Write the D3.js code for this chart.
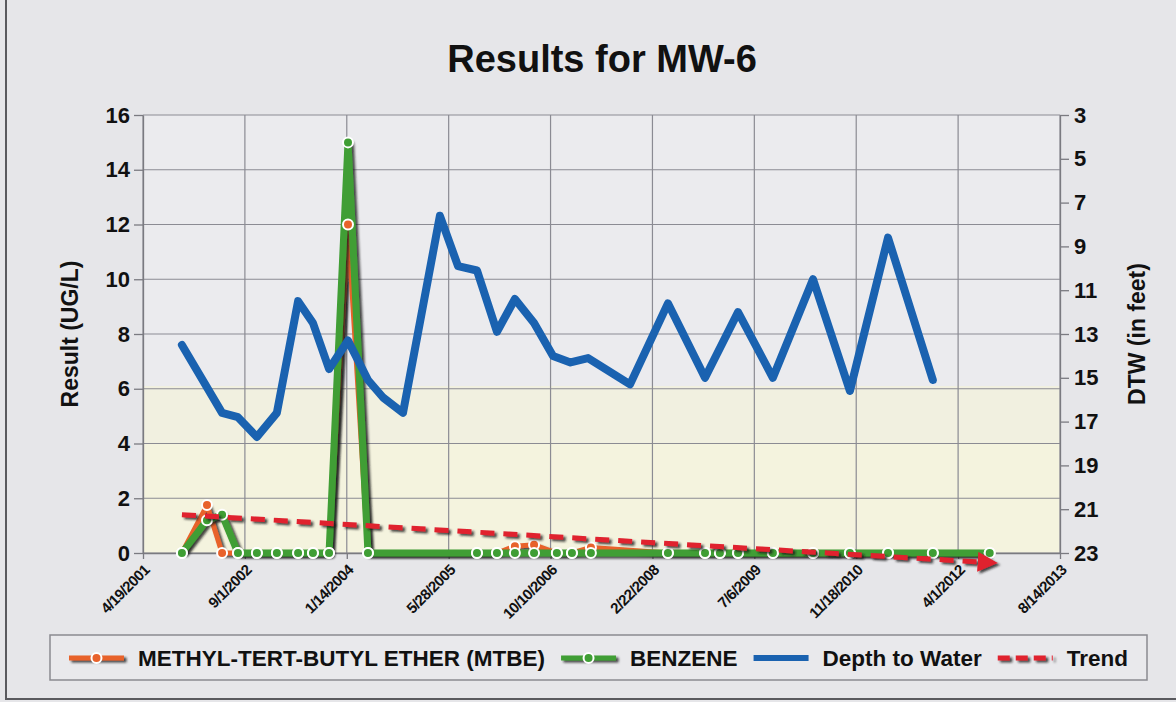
<!DOCTYPE html>
<html><head><meta charset="utf-8">
<script src="https://cdn.jsdelivr.net/npm/d3@7"></script>
<style>
html,body{margin:0;padding:0;background:#e6e6e9;}
svg{display:block;font-family:"Liberation Sans",Arial,sans-serif;}
</style></head><body>
<svg id="chart" width="1176" height="702"></svg>
<script>
// ---------- DATA ----------
const chartTitle = "Results for MW-6";
const leftAxisTitle = "Result (UG/L)";
const rightAxisTitle = "DTW (in feet)";
const xTickLabels = ["4/19/2001","9/1/2002","1/14/2004","5/28/2005","10/10/2006","2/22/2008","7/6/2009","11/18/2010","4/1/2012","8/14/2013"];
const leftTicks = [0,2,4,6,8,10,12,14,16];
const rightTicks = [3,5,7,9,11,13,15,17,19,21,23];

const sampleDates = ["2001-10-27","2002-02-27","2002-05-12","2002-07-29","2002-10-30","2003-02-05","2003-05-20","2003-08-01","2003-10-19","2004-01-20","2004-04-27","2005-10-14","2006-01-20","2006-04-18","2006-07-21","2006-11-10","2007-01-23","2007-04-26","2008-05-08","2008-11-06","2009-01-18","2009-04-17","2009-10-05","2010-04-20","2010-10-18","2011-04-23","2011-11-29","2012-09-03"];
const mtbeValues    = [0,1.75,0,0,0,0,0,0,0,12,0,0,0,0.25,0.3,0,0,0.2,0,0,0,0,0,0,0,0,0,0];
const benzeneValues = [0,1.2,1.4,0,0,0,0,0,0,15,0,0,0,0,0,0,0,0,0,0,0,0,0,0,0,0,0,0];

const dtwDates = ["2001-10-27","2002-05-12","2002-07-29","2002-10-30","2003-02-05","2003-05-20","2003-08-01","2003-10-19","2004-01-20","2004-04-27","2004-07-10","2004-10-16","2005-04-15","2005-07-13","2005-10-14","2006-01-20","2006-04-18","2006-07-21","2006-10-22","2007-01-16","2007-04-12","2007-11-04","2008-05-08","2008-11-06","2009-04-17","2009-10-05","2010-04-20","2010-10-18","2011-04-23","2011-11-29"];
const dtwValues = [13.5,16.6,16.8,17.7,16.6,11.5,12.5,14.6,13.3,15.1,15.9,16.6,7.6,9.9,10.1,12.9,11.4,12.5,14.0,14.3,14.1,15.3,11.6,15.0,12.0,15.0,10.5,15.6,8.6,15.1];

const trendDates = ["2001-10-27","2012-09-03"];
const trendValues = [1.4,-0.35];

const legendLabels = ["METHYL-TERT-BUTYL ETHER (MTBE)","BENZENE","Depth to Water","Trend"];
const seriesColors = {mtbe:"#e8622c", benzene:"#3f9e34", dtw:"#1a62b0", trend:"#e0202f"};

// ---------- CHART ----------
const svg = d3.select("#chart");
const parseISO = d3.timeParse("%Y-%m-%d");
const parseTick = d3.timeParse("%m/%d/%Y");
const tickDates = xTickLabels.map(parseTick);

const L = 143, R = 1060, T = 115, B = 553;
const x = d3.scaleTime().domain([tickDates[0], tickDates[tickDates.length-1]]).range([L, R]);
const yL = d3.scaleLinear().domain([0,16]).range([B, T]);
const yR = d3.scaleLinear().domain([3,23]).range([T, B]);

const defs = svg.append("defs");
const f = defs.append("filter").attr("id","sh").attr("filterUnits","userSpaceOnUse")
  .attr("x",0).attr("y",0).attr("width",1176).attr("height",702);
f.append("feDropShadow").attr("dx",2.5).attr("dy",2).attr("stdDeviation",0.8)
  .attr("flood-color","#1e1e1e").attr("flood-opacity",0.8);
defs.append("marker").attr("id","arrow").attr("viewBox","0 0 10 10").attr("refX",6).attr("refY",5)
  .attr("markerWidth",4).attr("markerHeight",4).attr("orient","auto")
  .append("path").attr("d","M0,0 L10,5 L0,10 z").attr("fill",seriesColors.trend);

// frame
svg.append("path").attr("d","M6,-5 L6,699 L1180,699").attr("fill","none").attr("stroke","#5a5a5e").attr("stroke-width",2);

// plot background
svg.append("rect").attr("x",L).attr("y",T).attr("width",R-L).attr("height",B-T).attr("fill","#ebebee");
svg.append("rect").attr("x",L).attr("y",yL(6.1)).attr("width",R-L).attr("height",B-yL(6.1)).attr("fill","#f1f0e0");
svg.append("rect").attr("x",L).attr("y",yL(4.0)).attr("width",R-L).attr("height",B-yL(4.0)).attr("fill","#f4f3de");

// grid
const grid = svg.append("g").attr("stroke","#8b8b93").attr("stroke-width",1.2);
grid.selectAll("line.h").data(leftTicks).join("line")
  .attr("x1",L).attr("x2",R).attr("y1",d=>yL(d)).attr("y2",d=>yL(d));
grid.selectAll("line.v").data(tickDates).join("line")
  .attr("x1",d=>x(d)).attr("x2",d=>x(d)).attr("y1",T).attr("y2",B);

// axes
function styleAxis(g, fs){
  g.select(".domain").attr("stroke","#7a7a80").attr("stroke-width",1.3);
  g.selectAll(".tick line").attr("stroke","#7a7a80").attr("stroke-width",1.3);
  g.selectAll("text").attr("font-family","Liberation Sans, Arial, sans-serif")
    .attr("font-weight","bold").attr("font-size",fs).attr("fill","#111");
}
const gl = svg.append("g").attr("transform",`translate(${L},0)`)
  .call(d3.axisLeft(yL).tickValues(leftTicks).tickSize(9).tickPadding(4).tickSizeOuter(0));
styleAxis(gl, 22);
const gr = svg.append("g").attr("transform",`translate(${R},0)`)
  .call(d3.axisRight(yR).tickValues(rightTicks).tickSize(9).tickPadding(5).tickSizeOuter(0));
styleAxis(gr, 22);
const gb = svg.append("g").attr("transform",`translate(0,${B})`)
  .call(d3.axisBottom(x).tickValues(tickDates).tickSize(6).tickSizeOuter(0).tickFormat((d,i)=>xTickLabels[i]));
styleAxis(gb, 15);
gb.selectAll("text").attr("x",0).attr("y",0).attr("dy",0).attr("text-anchor","end")
  .attr("letter-spacing","-0.6").attr("transform","translate(7,18) rotate(-45)");

// titles
svg.append("text").attr("x",602).attr("y",72).attr("text-anchor","middle")
  .attr("font-weight","bold").attr("font-size",38).attr("fill","#111").text(chartTitle);
svg.append("text").attr("transform","translate(78,334) rotate(-90)").attr("text-anchor","middle")
  .attr("font-weight","bold").attr("font-size",23).attr("fill","#111").text(leftAxisTitle);
svg.append("text").attr("transform","translate(1145,334) rotate(-90)").attr("text-anchor","middle")
  .attr("font-weight","bold").attr("font-size",23).attr("fill","#111").text(rightAxisTitle);

// series
const mtbe = sampleDates.map((d,i)=>({d:parseISO(d), v:mtbeValues[i]}));
const benz = sampleDates.map((d,i)=>({d:parseISO(d), v:benzeneValues[i]}));
const dtw = dtwDates.map((d,i)=>({d:parseISO(d), v:dtwValues[i]}));
const trend = trendDates.map((d,i)=>({d:parseISO(d), v:trendValues[i]}));
const lineL = d3.line().x(p=>x(p.d)).y(p=>yL(p.v));
const lineR = d3.line().x(p=>x(p.d)).y(p=>yR(p.v));

svg.append("path").datum(mtbe).attr("d",lineL).attr("fill","none")
  .attr("stroke",seriesColors.mtbe).attr("stroke-width",5).attr("stroke-linejoin","round").attr("filter","url(#sh)");
svg.append("path").datum(benz).attr("d",lineL).attr("fill","none")
  .attr("stroke",seriesColors.benzene).attr("stroke-width",7).attr("stroke-linejoin","round").attr("filter","url(#sh)");
svg.append("g").selectAll("circle").data(mtbe).join("circle")
  .attr("cx",p=>x(p.d)).attr("cy",p=>yL(p.v)).attr("r",5)
  .attr("fill",seriesColors.mtbe).attr("stroke","#fff").attr("stroke-width",2);
svg.append("g").selectAll("circle").data(benz).join("circle")
  .attr("cx",p=>x(p.d)).attr("cy",p=>yL(p.v)).attr("r",5)
  .attr("fill",seriesColors.benzene).attr("stroke","#fff").attr("stroke-width",2);
svg.append("path").datum(dtw).attr("d",lineR).attr("fill","none")
  .attr("stroke",seriesColors.dtw).attr("stroke-width",8).attr("stroke-linejoin","round").attr("stroke-linecap","round");
svg.append("path").datum(trend).attr("d",lineL).attr("fill","none")
  .attr("stroke",seriesColors.trend).attr("stroke-width",5).attr("stroke-dasharray","14,9")
  .attr("filter","url(#sh)").attr("marker-end","url(#arrow)");

// legend
const lg = svg.append("g");
lg.append("rect").attr("x",50).attr("y",635).attr("width",1097).attr("height",45)
  .attr("fill","#e9e9ec").attr("stroke","#8a8a90").attr("stroke-width",1.5);
const iconW = 55, gapIcon = 14, gapItem = 16, cy = 658, lfs = 22.5;
const styles = [
  {c:seriesColors.mtbe, w:5, dash:null, dot:true},
  {c:seriesColors.benzene, w:5, dash:null, dot:true},
  {c:seriesColors.dtw, w:6, dash:null, dot:false},
  {c:seriesColors.trend, w:5, dash:"12,6", dot:false}
];
const tmp = lg.append("g");
const widths = legendLabels.map(t=>{
  const n = tmp.append("text").attr("font-weight","bold").attr("font-size",lfs).text(t);
  const w = n.node().getComputedTextLength(); n.remove(); return w;
});
const total = widths.reduce((a,b)=>a+b,0) + 4*(iconW+gapIcon) + 3*gapItem;
let cx = 50 + (1097-total)/2;
legendLabels.forEach((t,i)=>{
  const s = styles[i];
  const ln = lg.append("line").attr("x1",cx).attr("x2",cx+iconW).attr("y1",cy).attr("y2",cy)
    .attr("stroke",s.c).attr("stroke-width",s.w);
  if (s.dash) ln.attr("stroke-dasharray",s.dash);
  if (i<2 || i===3) ln.attr("filter","url(#sh)");
  if (s.dot) lg.append("circle").attr("cx",cx+iconW/2).attr("cy",cy).attr("r",5)
    .attr("fill",s.c).attr("stroke","#fff").attr("stroke-width",2);
  lg.append("text").attr("x",cx+iconW+gapIcon).attr("y",cy+8).attr("font-weight","bold")
    .attr("font-size",lfs).attr("fill","#111").text(t);
  cx += iconW + gapIcon + widths[i] + gapItem;
});
</script>
</body></html>
